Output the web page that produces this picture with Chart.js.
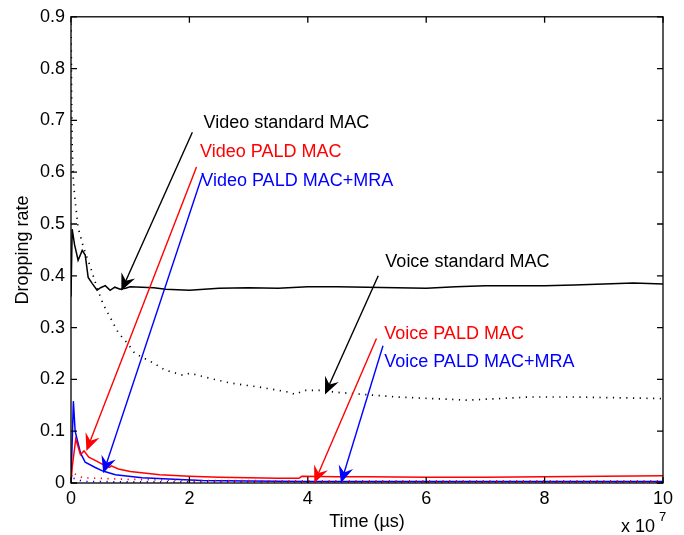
<!DOCTYPE html>
<html>
<head>
<meta charset="utf-8">
<script src="https://cdn.jsdelivr.net/npm/chart.js@4/dist/chart.umd.min.js"></script>
<style>
  html, body { margin: 0; padding: 0; background: #fff; }
  #wrap { width: 684px; height: 535px; }
</style>
</head>
<body>
<div id="wrap"><canvas id="chart" width="684" height="535"></canvas></div>
<script>
// x en unidades de 1e7 us
const xTicks = [0, 2, 4, 6, 8, 10];
const yTicks = [0, 0.1, 0.2, 0.3, 0.4, 0.5, 0.6, 0.7, 0.8, 0.9];

// Video standard MAC (negro continuo)
const videoStdX = [0, 0.02, 0.06, 0.12, 0.19, 0.24, 0.29, 0.36, 0.44, 0.5, 0.58, 0.66, 0.74, 0.83, 0.92, 1.0, 1.2, 1.4, 1.6, 1.8, 2.0, 2.5, 3.0, 3.5, 4.0, 4.5, 5.0, 5.5, 6.0, 6.5, 7.0, 7.5, 8.0, 8.5, 9.0, 9.5, 10];
const videoStdY = [0.36, 0.49, 0.46, 0.43, 0.449, 0.44, 0.397, 0.385, 0.372, 0.377, 0.381, 0.372, 0.378, 0.374, 0.376, 0.379, 0.378, 0.377, 0.374, 0.373, 0.372, 0.376, 0.377, 0.376, 0.379, 0.379, 0.378, 0.377, 0.376, 0.379, 0.381, 0.381, 0.381, 0.382, 0.384, 0.386, 0.384];

// Video PALD MAC (rojo continuo)
const videoPaldX = [0, 0.02, 0.03, 0.08, 0.16, 0.22, 0.3, 0.4, 0.55, 0.65, 0.68, 0.8, 1.0, 1.5, 2.0, 2.5, 3.0, 3.5, 3.85, 3.9, 4.5, 5.0, 6.0, 7.0, 8.0, 9.0, 10];
const videoPaldY = [0, 0.03, 0.03, 0.085, 0.055, 0.062, 0.05, 0.044, 0.035, 0.03, 0.033, 0.027, 0.022, 0.016, 0.013, 0.011, 0.01, 0.009, 0.009, 0.013, 0.012, 0.012, 0.011, 0.011, 0.012, 0.013, 0.014];

// Video PALD MAC+MRA (azul continuo)
const videoMraX = [0, 0.04, 0.07, 0.16, 0.24, 0.41, 0.54, 0.75, 1.2, 2.2, 3.0, 4.0, 6.0, 8.0, 10];
const videoMraY = [0, 0.158, 0.1, 0.058, 0.04, 0.03, 0.023, 0.016, 0.01, 0.005, 0.004, 0.003, 0.003, 0.003, 0.003];

// Voice standard MAC (negro punteado)
const voiceStdX = [0, 0.01, 0.02, 0.04, 0.07, 0.12, 0.21, 0.33, 0.44, 0.54, 0.66, 0.8, 0.95, 1.08, 1.37, 1.59, 1.89, 2.01, 2.35, 2.69, 3.19, 3.7, 3.78, 3.95, 4.2, 4.5, 5.5, 6.7, 7.75, 8.5, 10];
const voiceStdY = [0.9, 0.75, 0.65, 0.583, 0.545, 0.493, 0.455, 0.416, 0.377, 0.346, 0.32, 0.29, 0.27, 0.25, 0.233, 0.218, 0.208, 0.212, 0.202, 0.193, 0.185, 0.175, 0.171, 0.179, 0.179, 0.175, 0.166, 0.16, 0.166, 0.166, 0.163];

// Voice PALD MAC (rojo punteado)
const voicePaldX = [0, 0.02, 0.2, 1, 2, 4, 6, 8, 10];
const voicePaldY = [0, 0.02, 0.01, 0.007, 0.005, 0.004, 0.004, 0.004, 0.004];

// Voice PALD MAC+MRA (azul punteado)
const voiceMraX = [0, 0.02, 0.2, 1, 2, 4, 6, 8, 10];
const voiceMraY = [0, 0.01, 0.003, 0.002, 0.002, 0.002, 0.002, 0.002, 0.002];

// Anotaciones: texto (x, y) y flecha desde (x0, y0) hasta la punta (x1, y1), en coordenadas de datos
const annText = ['Video standard MAC', 'Video PALD MAC', 'Video PALD MAC+MRA', 'Voice standard MAC', 'Voice PALD MAC', 'Voice PALD MAC+MRA'];
const annColor = ['#000000', '#ff0000', '#0000ff', '#000000', '#ff0000', '#0000ff'];
const annTextX = [2.24, 2.18, 2.2, 5.31, 5.29, 5.29];
const annTextY = [0.694, 0.638, 0.583, 0.427, 0.288, 0.233];
const arrowX0 = [2.05, 2.12, 2.23, 5.19, 5.16, 5.27];
const arrowY0 = [0.677, 0.61, 0.598, 0.40, 0.279, 0.265];
const arrowX1 = [0.85, 0.26, 0.545, 4.29, 4.11, 4.56];
const arrowY1 = [0.371, 0.062, 0.019, 0.171, 0.0, 0.0];

const pts = (xs, ys) => xs.map((x, i) => ({ x, y: ys[i] }));
const FONT = '"Liberation Sans", Arial, sans-serif';

function serie(label, xs, ys, color, dotted) {
  return {
    label,
    data: pts(xs, ys),
    borderColor: color,
    borderWidth: dotted ? 1.7 : 1.5,
    borderDash: dotted ? [1.2, 5.5] : [],
    pointRadius: 0,
    tension: 0,
    fill: false
  };
}

// Marco tipo MATLAB, ticks interiores, flechas y textos
const marcoPlugin = {
  id: 'marco',
  afterDatasetsDraw(chart) {
    const { ctx, chartArea: a, scales } = chart;
    const sx = scales.x, sy = scales.y;
    ctx.save();
    ctx.strokeStyle = '#000';
    ctx.lineWidth = 1.3;
    ctx.strokeRect(a.left, a.top, a.right - a.left, a.bottom - a.top);
    ctx.beginPath();
    xTicks.forEach(v => {
      const p = sx.getPixelForValue(v);
      ctx.moveTo(p, a.bottom); ctx.lineTo(p, a.bottom - 6);
      ctx.moveTo(p, a.top); ctx.lineTo(p, a.top + 6);
    });
    yTicks.forEach(v => {
      const p = sy.getPixelForValue(v);
      ctx.moveTo(a.left, p); ctx.lineTo(a.left + 6, p);
      ctx.moveTo(a.right, p); ctx.lineTo(a.right - 6, p);
    });
    ctx.stroke();

    // flechas
    annText.forEach((t, i) => {
      const x0 = sx.getPixelForValue(arrowX0[i]), y0 = sy.getPixelForValue(arrowY0[i]);
      const x1 = sx.getPixelForValue(arrowX1[i]), y1 = sy.getPixelForValue(arrowY1[i]);
      const ang = Math.atan2(y1 - y0, x1 - x0);
      const L = 17, W = 7.5;
      ctx.strokeStyle = annColor[i];
      ctx.fillStyle = annColor[i];
      ctx.lineWidth = 1.4;
      ctx.beginPath();
      ctx.moveTo(x0, y0);
      ctx.lineTo(x1 - Math.cos(ang) * 10, y1 - Math.sin(ang) * 10);
      ctx.stroke();
      const bx = x1 - Math.cos(ang) * L, by = y1 - Math.sin(ang) * L;
      const nx = -Math.sin(ang), ny = Math.cos(ang);
      ctx.beginPath();
      ctx.moveTo(x1, y1);
      ctx.lineTo(bx + nx * W, by + ny * W);
      ctx.lineTo(x1 - Math.cos(ang) * 11, y1 - Math.sin(ang) * 11);
      ctx.lineTo(bx - nx * W, by - ny * W);
      ctx.closePath();
      ctx.fill();

      ctx.font = '18px ' + FONT;
      ctx.textAlign = 'left';
      ctx.textBaseline = 'middle';
      ctx.fillText(t, sx.getPixelForValue(annTextX[i]), sy.getPixelForValue(annTextY[i]));
    });

    // factor de escala del eje x
    ctx.fillStyle = '#000';
    ctx.font = '18px ' + FONT;
    ctx.textAlign = 'left';
    ctx.textBaseline = 'alphabetic';
    ctx.fillText('x 10', 621, 532);
    ctx.font = '13px ' + FONT;
    ctx.fillText('7', 659, 521);
    ctx.restore();
  }
};

new Chart(document.getElementById('chart').getContext('2d'), {
  type: 'line',
  data: {
    datasets: [
      serie('Voice standard MAC', voiceStdX, voiceStdY, '#000000', true),
      serie('Voice PALD MAC', voicePaldX, voicePaldY, '#ff0000', true),
      serie('Voice PALD MAC+MRA', voiceMraX, voiceMraY, '#0000ff', true),
      serie('Video standard MAC', videoStdX, videoStdY, '#000000', false),
      serie('Video PALD MAC', videoPaldX, videoPaldY, '#ff0000', false),
      serie('Video PALD MAC+MRA', videoMraX, videoMraY, '#0000ff', false)
    ]
  },
  options: {
    responsive: false,
    animation: false,
    layout: { padding: { left: 12, top: 15, right: 21, bottom: 0 } },
    plugins: { legend: { display: false }, tooltip: { enabled: false } },
    scales: {
      x: {
        type: 'linear',
        min: 0, max: 10,
        afterBuildTicks: s => { s.ticks = xTicks.map(v => ({ value: v })); },
        afterFit: s => { s.height = 52; },
        grid: { display: false, drawTicks: false },
        border: { display: false },
        ticks: { color: '#000', font: { family: FONT, size: 18 }, padding: 5, maxRotation: 0 },
        title: { display: true, text: 'Time (µs)', color: '#000', font: { family: FONT, size: 18 }, padding: { top: 0, bottom: 2 } }
      },
      y: {
        min: 0, max: 0.9,
        afterBuildTicks: s => { s.ticks = yTicks.map(v => ({ value: v })); },
        afterFit: s => { s.width = 59; },
        grid: { display: false, drawTicks: false },
        border: { display: false },
        ticks: { color: '#000', font: { family: FONT, size: 18 }, padding: 6, callback: v => String(Math.round(v * 10) / 10) },
        title: { display: true, text: 'Dropping rate', color: '#000', font: { family: FONT, size: 18 }, padding: { top: 0, bottom: 0 } }
      }
    }
  },
  plugins: [marcoPlugin]
});
</script>
</body>
</html>
